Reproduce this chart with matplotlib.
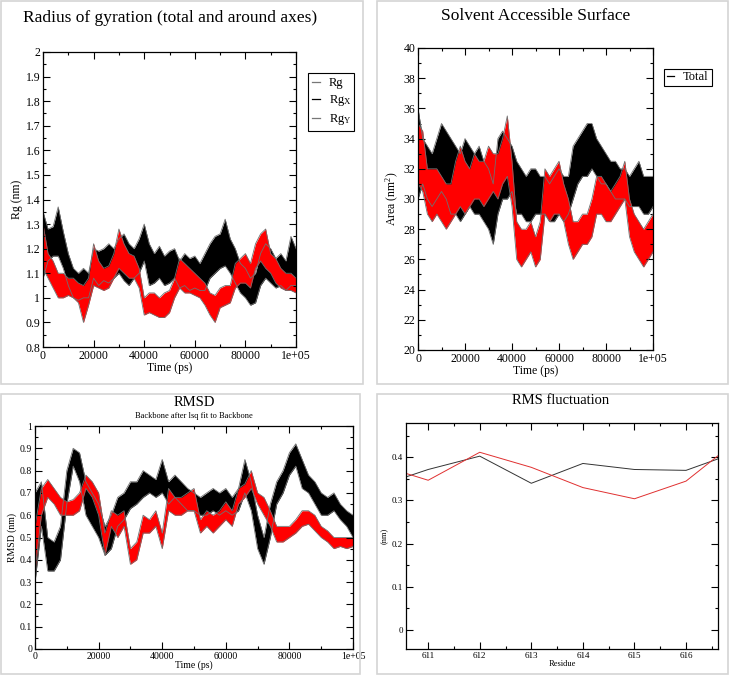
import matplotlib
matplotlib.use("Agg")
import matplotlib.pyplot as plt
from matplotlib.patches import Rectangle
from matplotlib.ticker import MultipleLocator
import numpy as np

plt.rcParams["font.family"] = ["Liberation Serif", "DejaVu Serif"]
plt.rcParams["mathtext.fontset"] = "custom"
plt.rcParams["mathtext.rm"] = "Liberation Serif"
plt.rcParams["mathtext.it"] = "Liberation Serif:italic"

# time axis shared by the three trajectories (ps), one sample every 2000 ps
time_ps = np.arange(0, 100001, 2000)
time_ticks = [0, 20000, 40000, 60000, 80000, 100000]
time_tick_labels = ["0", "20000", "40000", "60000", "80000", "1e+05"]

# radius of gyration (nm): band low / high of each run
rg_black_high = [1.35, 1.28, 1.29, 1.37, 1.27, 1.18, 1.12, 1.10, 1.12, 1.10,
                 1.20, 1.19, 1.20, 1.22, 1.20, 1.24, 1.26, 1.22, 1.20, 1.24,
                 1.30, 1.22, 1.18, 1.21, 1.17, 1.19, 1.20, 1.15, 1.18, 1.16,
                 1.17, 1.14, 1.18, 1.22, 1.25, 1.26, 1.32, 1.24, 1.20, 1.14,
                 1.12, 1.08, 1.10, 1.18, 1.22, 1.20, 1.16, 1.18, 1.15, 1.25,
                 1.20]
rg_black_low = [1.08, 1.15, 1.17, 1.17, 1.12, 1.05, 1.00, 0.99, 1.00, 1.00,
                1.08, 1.05, 1.07, 1.06, 1.08, 1.10, 1.07, 1.05, 1.08, 1.10,
                1.15, 1.05, 1.06, 1.08, 1.05, 1.06, 1.08, 1.04, 1.05, 1.03,
                1.04, 1.03, 1.03, 1.08, 1.10, 1.12, 1.13, 1.10, 1.06, 1.02,
                1.00, 0.97, 0.98, 1.05, 1.08, 1.06, 1.04, 1.05, 1.03, 1.05,
                1.05]
rg_red_high = [1.30, 1.18, 1.15, 1.10, 1.10, 1.08, 1.08, 1.06, 1.05, 1.08,
               1.22, 1.15, 1.12, 1.13, 1.18, 1.28, 1.22, 1.18, 1.17, 1.12,
               1.00, 1.02, 1.02, 1.00, 1.02, 1.03, 1.08, 1.16, 1.14, 1.12,
               1.10, 1.08, 1.06, 1.02, 1.01, 1.04, 1.05, 1.05, 1.14, 1.16,
               1.18, 1.14, 1.22, 1.26, 1.28, 1.18, 1.16, 1.12, 1.10, 1.10,
               1.08]
rg_red_low = [1.12, 1.08, 1.04, 1.00, 1.00, 1.01, 1.00, 0.98, 0.90, 0.97,
              1.05, 1.04, 1.03, 1.04, 1.08, 1.12, 1.10, 1.08, 1.08, 1.04,
              0.93, 0.94, 0.93, 0.92, 0.92, 0.94, 1.00, 1.04, 1.02, 1.02,
              1.01, 1.00, 0.97, 0.93, 0.90, 0.96, 0.97, 0.98, 1.04, 1.06,
              1.06, 1.04, 1.12, 1.15, 1.12, 1.10, 1.06, 1.04, 1.03, 1.03,
              1.02]

# solvent accessible surface (nm^2)
sas_black_high = [36.0, 34.0, 33.5, 33.0, 34.0, 35.0, 34.5, 34.0, 33.5, 33.0,
                  34.0, 33.5, 33.0, 33.5, 32.5, 32.0, 31.0, 34.0, 34.5, 34.0,
                  33.5, 32.5, 32.0, 31.5, 32.0, 32.0, 31.5, 31.5, 31.0, 31.5,
                  32.0, 31.5, 31.5, 33.5, 34.0, 34.5, 35.0, 35.0, 34.0, 33.5,
                  33.0, 32.5, 32.5, 32.0, 32.0, 31.5, 32.0, 32.5, 31.5, 31.5,
                  31.5]
sas_black_low = [30.0, 31.0, 30.0, 29.5, 30.0, 30.5, 30.0, 29.0, 29.0, 28.5,
                 29.0, 29.5, 29.0, 29.0, 28.5, 28.0, 27.0, 29.0, 30.0, 30.0,
                 30.5, 29.0, 29.0, 28.5, 28.5, 29.0, 29.0, 29.0, 28.5, 28.5,
                 29.0, 28.5, 29.0, 30.0, 31.0, 31.5, 31.5, 32.0, 31.5, 31.0,
                 31.0, 30.5, 30.0, 30.0, 30.0, 29.5, 29.5, 29.5, 29.0, 29.0,
                 29.5]
sas_red_high = [35.0, 34.5, 32.0, 32.0, 32.0, 31.5, 31.0, 31.0, 32.5, 33.5,
                32.5, 32.0, 33.0, 32.5, 32.5, 33.5, 33.0, 33.0, 34.0, 35.5,
                32.5, 28.5, 28.0, 28.0, 28.5, 27.5, 28.5, 32.0, 31.5, 32.0,
                32.5, 31.0, 30.0, 28.5, 28.5, 29.0, 29.0, 30.0, 31.5, 31.5,
                31.0, 30.5, 31.0, 31.5, 32.5, 30.0, 29.0, 28.5, 28.0, 28.5,
                29.0]
sas_red_low = [31.0, 30.5, 29.0, 28.5, 29.0, 28.5, 28.0, 28.5, 29.0, 29.5,
               29.0, 29.5, 30.0, 30.0, 29.5, 30.0, 30.5, 30.0, 31.0, 31.5,
               29.5, 26.0, 25.5, 26.0, 26.5, 25.5, 26.0, 29.0, 28.5, 29.0,
               29.0, 28.5, 27.0, 26.0, 26.5, 27.0, 27.0, 27.5, 29.0, 29.0,
               28.5, 28.5, 29.0, 29.5, 30.0, 27.5, 26.5, 26.0, 25.5, 26.0,
               26.5]

# backbone RMSD (nm)
rmsd_black_high = [0.70, 0.75, 0.50, 0.48, 0.55, 0.80, 0.90, 0.88, 0.75, 0.70,
                   0.65, 0.55, 0.60, 0.68, 0.70, 0.75, 0.75, 0.80, 0.78, 0.76,
                   0.85, 0.75, 0.78, 0.75, 0.72, 0.70, 0.68, 0.70, 0.72, 0.70,
                   0.72, 0.68, 0.72, 0.85, 0.75, 0.60, 0.50, 0.65, 0.75, 0.80,
                   0.88, 0.92, 0.85, 0.78, 0.75, 0.70, 0.68, 0.70, 0.65, 0.62,
                   0.60]
rmsd_black_low = [0.30, 0.55, 0.35, 0.35, 0.40, 0.65, 0.82, 0.75, 0.60, 0.55,
                  0.50, 0.42, 0.45, 0.55, 0.58, 0.63, 0.65, 0.68, 0.70, 0.68,
                  0.70, 0.65, 0.68, 0.65, 0.62, 0.62, 0.60, 0.60, 0.62, 0.60,
                  0.62, 0.60, 0.62, 0.70, 0.62, 0.45, 0.38, 0.50, 0.65, 0.70,
                  0.78, 0.82, 0.72, 0.70, 0.65, 0.60, 0.60, 0.62, 0.58, 0.55,
                  0.50]
rmsd_red_high = [0.55, 0.72, 0.76, 0.72, 0.68, 0.66, 0.67, 0.70, 0.78, 0.75,
                 0.70, 0.52, 0.62, 0.60, 0.62, 0.45, 0.48, 0.60, 0.58, 0.62,
                 0.52, 0.72, 0.68, 0.68, 0.70, 0.72, 0.58, 0.62, 0.60, 0.62,
                 0.66, 0.62, 0.72, 0.74, 0.80, 0.70, 0.68, 0.62, 0.55, 0.55,
                 0.55, 0.58, 0.62, 0.62, 0.60, 0.55, 0.53, 0.50, 0.50, 0.50,
                 0.50]
rmsd_red_low = [0.35, 0.60, 0.68, 0.65, 0.60, 0.60, 0.60, 0.62, 0.72, 0.68,
                0.60, 0.42, 0.55, 0.50, 0.55, 0.38, 0.40, 0.52, 0.52, 0.55,
                0.45, 0.62, 0.60, 0.60, 0.62, 0.62, 0.52, 0.55, 0.52, 0.55,
                0.58, 0.55, 0.65, 0.68, 0.72, 0.65, 0.60, 0.55, 0.48, 0.48,
                0.50, 0.52, 0.55, 0.56, 0.53, 0.50, 0.48, 0.45, 0.46, 0.45,
                0.46]

# RMS fluctuation per residue (nm)
residues = [610, 611, 612, 613, 614, 615, 616, 617]
rmsf_black = [0.332, 0.372, 0.403, 0.340, 0.386, 0.372, 0.370, 0.413]
rmsf_red = [0.384, 0.347, 0.412, 0.377, 0.330, 0.304, 0.345, 0.440]

W, H = 729, 675


def px_axes(fig, left, top, right, bottom):
    return fig.add_axes([left / W, (H - bottom) / H, (right - left) / W, (bottom - top) / H])


def panel_border(fig, left, top, right, bottom):
    fig.patches.append(Rectangle((left / W, (H - bottom) / H), (right - left) / W,
                                 (bottom - top) / H, transform=fig.transFigure,
                                 fill=False, edgecolor="#d4d4d4", linewidth=1.2))


def grace_style(ax, size):
    ax.tick_params(which="both", direction="in", top=True, right=True,
                   labelsize=size, pad=2, width=0.8)
    ax.tick_params(which="major", length=5)
    ax.tick_params(which="minor", length=2.5)
    for spine in ax.spines.values():
        spine.set_linewidth(0.9)


def draw_band(ax, low, high, color):
    ax.fill_between(time_ps, low, high, color=color, linewidth=0)
    ax.plot(time_ps, high, color="#707070", linewidth=0.6)
    ax.plot(time_ps, low, color="#707070", linewidth=0.6)


def time_axis(ax, size):
    ax.set_xlim(0, 100000)
    ax.set_xticks(time_ticks)
    ax.set_xticklabels(time_tick_labels)
    ax.xaxis.set_minor_locator(MultipleLocator(10000))
    ax.set_xlabel("Time (ps)", fontsize=size, labelpad=0)


def box_legend(ax, handles, labels, left, top, right, bottom, **kw):
    leg = ax.legend(handles, labels, loc="upper left",
                    bbox_to_anchor=(left / W, 1 - bottom / H, (right - left) / W, (bottom - top) / H),
                    bbox_transform=fig.transFigure, mode="expand", fontsize=9,
                    handlelength=0.6, handletextpad=0.7, borderaxespad=0, fancybox=False,
                    edgecolor="black", framealpha=1, **kw)
    leg.get_frame().set_linewidth(0.8)


fig = plt.figure(figsize=(W / 100, H / 100), dpi=100)

panel_border(fig, 1, 1, 363, 384)
panel_border(fig, 377, 1, 728, 384)
panel_border(fig, 1, 394, 360, 674)
panel_border(fig, 377, 394, 728, 674)

# radius of gyration
ax = px_axes(fig, 43, 52, 296, 347)
draw_band(ax, rg_black_low, rg_black_high, "black")
draw_band(ax, rg_red_low, rg_red_high, "red")
time_axis(ax, 8.5)
ax.set_ylim(0.8, 2.0)
ax.yaxis.set_major_locator(MultipleLocator(0.1))
ax.yaxis.set_minor_locator(MultipleLocator(0.05))
ax.set_yticklabels([f"{v:g}" for v in ax.get_yticks()])
ax.set_ylabel("Rg (nm)", fontsize=8.5, labelpad=2)
grace_style(ax, 8.5)
fig.text(170 / W, 1 - 18 / H, "Radius of gyration (total and around axes)",
         ha="center", va="center", fontsize=12.5)
handles = [plt.Line2D([], [], color=c, linewidth=0.9) for c in ["#777777", "black", "#777777"]]
box_legend(ax, handles, ["Rg", r"Rg$_\mathrm{X}$", r"Rg$_\mathrm{Y}$"], 308, 73, 354, 128,
           labelspacing=0.3, borderpad=0.35)

# solvent accessible surface
ax = px_axes(fig, 418, 48, 653, 350)
draw_band(ax, sas_black_low, sas_black_high, "black")
draw_band(ax, sas_red_low, sas_red_high, "red")
time_axis(ax, 8.5)
ax.set_ylim(20, 40)
ax.yaxis.set_major_locator(MultipleLocator(2))
ax.yaxis.set_minor_locator(MultipleLocator(1))
ax.set_ylabel(r"Area (nm$^2$)", fontsize=8.5, labelpad=2)
grace_style(ax, 8.5)
fig.text(536 / W, 1 - 16 / H, "Solvent Accessible Surface", ha="center", va="center",
         fontsize=12.5)
box_legend(ax, [plt.Line2D([], [], color="black", linewidth=0.9)], ["Total"],
           664, 69, 712, 87, borderpad=0.2)

# RMSD
ax = px_axes(fig, 35, 426, 353, 649)
draw_band(ax, rmsd_black_low, rmsd_black_high, "black")
draw_band(ax, rmsd_red_low, rmsd_red_high, "red")
time_axis(ax, 7)
ax.set_ylim(0, 1)
ax.yaxis.set_major_locator(MultipleLocator(0.1))
ax.yaxis.set_minor_locator(MultipleLocator(0.05))
ax.set_yticklabels([f"{v:g}" for v in ax.get_yticks()])
ax.set_ylabel("RMSD (nm)", fontsize=7, labelpad=2)
grace_style(ax, 7)
fig.text(194 / W, 1 - 403 / H, "RMSD", ha="center", va="center", fontsize=10.5)
fig.text(194 / W, 1 - 416 / H, "Backbone after lsq fit to Backbone", ha="center",
         va="center", fontsize=6)

# RMS fluctuation
ax = px_axes(fig, 406, 423, 718, 649)
ax.plot(residues, rmsf_black, color="#333333", linewidth=0.7)
ax.plot(residues, rmsf_red, color="#e03030", linewidth=0.7)
ax.set_xlim(610.57, 616.62)
ax.set_ylim(-0.045, 0.48)
ax.set_xticks(residues[1:7])
ax.xaxis.set_minor_locator(MultipleLocator(0.5))
ax.yaxis.set_major_locator(MultipleLocator(0.1))
ax.yaxis.set_minor_locator(MultipleLocator(0.05))
ax.set_yticklabels([f"{v:g}" for v in ax.get_yticks()])
ax.set_xlabel("Residue", fontsize=6, labelpad=0)
ax.set_ylabel("(nm)", fontsize=6, labelpad=2)
grace_style(ax, 6.5)
fig.text(561 / W, 1 - 400 / H, "RMS fluctuation", ha="center", va="center", fontsize=10.5)

fig.savefig("out.png", dpi=100)
